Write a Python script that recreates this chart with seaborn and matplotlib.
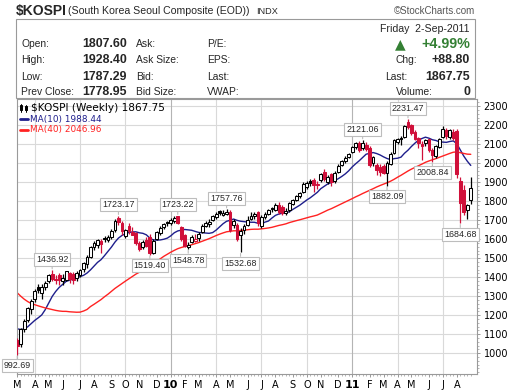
import numpy as np
import pandas as pd
import matplotlib
matplotlib.use("Agg")
import matplotlib.pyplot as plt
from matplotlib.patches import Rectangle
from matplotlib.lines import Line2D
import seaborn as sns

# ---------------- data ----------------
symbol = "$KOSPI"
name = "(South Korea Seoul Composite (EOD))"
exchange = "INDX"
date_label = "Friday  2-Sep-2011"
volume_last = 0

week_end = pd.date_range("2009-03-06", "2011-09-02", freq="W-FRI")  # weekly bars

opens = [1070, 1050, 1126, 1175, 1235, 1284, 1349, 1316, 1347, 1382,
         1417, 1392, 1412, 1380, 1386, 1424, 1418, 1395, 1412, 1442,
         1470, 1508, 1561, 1568, 1590, 1608, 1598, 1611, 1649, 1710,
         1688, 1615, 1668, 1640, 1632, 1579, 1558, 1596, 1610, 1530,
         1600, 1632, 1662, 1690, 1685, 1695, 1720, 1666, 1623, 1560,
         1587, 1590, 1605, 1640, 1670, 1682, 1700, 1718, 1750, 1730,
         1735, 1745, 1675, 1675, 1625, 1650, 1675, 1705, 1722, 1742,
         1672, 1716, 1733, 1763, 1755, 1778, 1772, 1740, 1754, 1786,
         1807, 1826, 1851, 1877, 1907, 1912, 1890, 1912, 1956, 1900,
         1945, 1905, 1955, 1990, 2010, 2032, 2060, 2087, 2108, 2080,
         2095, 2080, 2001, 1990, 1980, 1988, 1950, 1995, 2055, 2110,
         2134, 2140, 2215, 2200, 2165, 2135, 2100, 2105, 2125, 2068,
         2040, 2085, 2140, 2175, 2140, 2165, 2170, 1905, 1860, 1755,
         1807.60]
highs = [1080, 1132, 1182, 1245, 1287, 1340, 1366, 1362, 1382, 1415,
         1436.92, 1410, 1420, 1415, 1434, 1430, 1428, 1432, 1445, 1480,
         1515, 1565, 1590, 1602, 1600, 1615, 1625, 1652, 1705, 1723.17,
         1695, 1655, 1683, 1665, 1640, 1590, 1595, 1610, 1630, 1600,
         1645, 1670, 1685, 1695, 1712, 1720, 1723.22, 1672, 1630, 1585,
         1625, 1630, 1640, 1680, 1695, 1705, 1730, 1742, 1756, 1755,
         1757.76, 1752, 1705, 1685, 1660, 1680, 1720, 1745, 1742, 1748,
         1730, 1745, 1760, 1770, 1792, 1795, 1780, 1765, 1795, 1810,
         1835, 1850, 1900, 1905, 1915, 1920, 1905, 1950, 1970, 1940,
         1950, 1960, 1995, 2018, 2038, 2055, 2092, 2112, 2118, 2121.06,
         2110, 2090, 2040, 2000, 1995, 1995, 2010, 2060, 2128, 2135,
         2145, 2200, 2231.47, 2205, 2175, 2140, 2115, 2130, 2130, 2080,
         2095, 2135, 2195, 2185, 2178, 2180, 2180, 1925, 1885, 1785,
         1928.40]
lows = [992.69, 1035, 1110, 1165, 1205, 1270, 1318, 1285, 1335, 1370,
        1380, 1366, 1360, 1360, 1380, 1370, 1365, 1380, 1400, 1430,
        1450, 1500, 1545, 1555, 1530, 1585, 1585, 1600, 1640, 1675,
        1625, 1605, 1630, 1620, 1570, 1540, 1550, 1560, 1519.40, 1525,
        1595, 1620, 1655, 1670, 1675, 1685, 1680, 1590, 1560, 1548.78,
        1580, 1585, 1590, 1635, 1665, 1665, 1695, 1708, 1725, 1720,
        1725, 1640, 1660, 1590, 1532.68, 1630, 1670, 1700, 1705, 1670,
        1660, 1705, 1725, 1745, 1750, 1735, 1730, 1725, 1745, 1780,
        1800, 1815, 1845, 1865, 1880, 1850, 1865, 1900, 1905, 1890,
        1880, 1895, 1950, 1985, 2000, 2025, 2055, 2075, 2060, 2070,
        2065, 1980, 1985, 1940, 1935, 1945, 1882.09, 1990, 2050, 2100,
        2095, 2135, 2180, 2150, 2120, 2080, 2015, 2090, 2060, 2008.84,
        2030, 2080, 2135, 2130, 2130, 2120, 1920, 1684.68, 1730, 1705,
        1787.29]
closes = [1038, 1127, 1170, 1237, 1277, 1326, 1333, 1350, 1371, 1410,
          1389, 1388, 1384, 1398, 1433, 1390, 1386, 1420, 1438, 1477,
          1508, 1557, 1580, 1594, 1575, 1602, 1614, 1645, 1698, 1690,
          1644, 1650, 1643, 1625, 1580, 1550, 1587, 1566, 1526, 1591,
          1636, 1660, 1680, 1683, 1700, 1712, 1684, 1602, 1567, 1570,
          1614, 1600, 1627, 1668, 1688, 1692, 1723, 1733, 1736, 1738,
          1741.56, 1649, 1695, 1600, 1641, 1672, 1700, 1722, 1735, 1683,
          1718, 1735, 1752, 1759, 1781, 1745, 1740, 1748, 1789, 1805,
          1830, 1845, 1890, 1895, 1897, 1886, 1883, 1941, 1915, 1930,
          1901, 1950, 1987, 2013, 2030, 2051, 2086, 2109, 2070, 2107,
          2073, 1992, 2031, 1962, 1955, 1950, 2000, 2050, 2123, 2128,
          2130, 2196, 2192, 2161, 2127, 2104, 2090, 2120, 2071, 2045,
          2091, 2125, 2181, 2145, 2172.7, 2133, 1943, 1793, 1745, 1778.95,
          1867.75]
# 39 weekly closes before the first bar (only feed the moving averages)
prior_closes = [1830, 1800, 1740, 1680, 1570, 1580, 1560, 1600, 1570, 1570,
                1560, 1510, 1474, 1439, 1477, 1440, 1460, 1419, 1241, 1180,
                938, 1113, 1092, 1088, 1003, 1076, 1034, 1093, 1172, 1120,
                1157, 1152, 1112, 1108, 1162, 1197, 1200, 1095, 1063]

high_marks = [10, 29, 46, 60, 99, 112]
low_marks = [0, 38, 49, 64, 106, 119, 127]
ma_periods = [10, 40]
y_ticks = list(range(1000, 2301, 100))

# ---------------- styling ----------------
sns.set_theme(style="white")
plt.rcParams["font.family"] = ["DejaVu Sans"]
HDR = ["Liberation Sans", "DejaVu Sans"]
RED = "#d0103a"
NAVY = "#1e1e8c"
MARED = "#ff2222"
GREEN = "#348034"
GRID = "#d9d9d9"

W, H = 520, 391
fig = plt.figure(figsize=(W / 100, H / 100), dpi=100)
fig.patch.set_facecolor("white")


def fx(px):
    return px / W


def fy(py):
    return 1 - py / H


ax = fig.add_axes([fx(16.7), fy(374), (476.7 - 16.7) / W, (374 - 99) / H])
ax.set_facecolor("white")

df = pd.DataFrame({"date": week_end, "open": opens, "high": highs,
                   "low": lows, "close": closes})
df["i"] = np.arange(len(df))
allc = pd.Series(prior_closes + closes, dtype=float)
for p in ma_periods:
    df[f"ma{p}"] = allc.rolling(p).mean().iloc[len(prior_closes):].to_numpy()

prev = pd.Series(closes, dtype=float).shift(1).fillna(prior_closes[-1])
col = np.where(df["close"] >= prev, "black", RED)
filled = (df["close"] < df["open"]).to_numpy()
face = np.where(filled, col, "white")
body_lo = np.minimum(df["open"], df["close"])
body_h = np.maximum(np.abs(df["close"] - df["open"]), 3.0)

# grid
mondays = week_end - pd.Timedelta(days=4)
month_idx = [0] + [k for k in range(1, len(mondays)) if mondays[k].month != mondays[k - 1].month]
for yv in y_ticks:
    ax.axhline(yv, color=GRID, lw=0.8, zorder=0)
for k in month_idx:
    m = mondays[k].month
    if m in (1, 4, 7, 10):
        ax.axvline(k, color="#b4b4b4" if m == 1 else GRID, lw=0.8, zorder=0)

# moving averages
sns.lineplot(data=df, x="i", y="ma10", ax=ax, color=NAVY, lw=1.0, zorder=2)
sns.lineplot(data=df, x="i", y="ma40", ax=ax, color=MARED, lw=1.0, zorder=2)

# candles
ax.vlines(df["i"], df["low"], df["high"], colors=col, lw=0.9, zorder=3)
ax.bar(df["i"], body_h, bottom=body_lo, width=0.8, color=face,
       edgecolor=col, linewidth=0.75, zorder=4)

ax.set_xlim(-0.17, 131.7)
ax.set_ylim(891, 2338)
ax.set_xlabel("")
ax.set_ylabel("")

# axes ticks
ax.yaxis.tick_right()
ax.set_yticks(y_ticks)
ax.set_yticklabels([str(v) for v in y_ticks])
ax.set_yticks(np.arange(900, 2340, 20), minor=True)
ax.tick_params(axis="y", which="major", length=2.5, width=0.6, color="#888888",
               pad=2.5, labelsize=7, labelcolor="black", right=True, left=False)
ax.tick_params(axis="y", which="minor", length=1.5, width=0.6, color="#aaaaaa",
               right=True, left=False)

xlabels = []
for k in month_idx:
    d = mondays[k]
    xlabels.append(f"{d.year % 100:02d}" if d.month == 1 else d.strftime("%b")[0])
ax.set_xticks(month_idx)
ax.set_xticklabels(xlabels)
ax.set_xticks(df["i"], minor=True)
ax.tick_params(axis="x", which="major", length=2, width=0.6, color="#888888",
               pad=2.5, labelsize=7, labelcolor="black", bottom=True)
ax.tick_params(axis="x", which="minor", length=1.5, width=0.6, color="#aaaaaa",
               bottom=True)
for lab, k in zip(ax.get_xticklabels(), month_idx):
    if mondays[k].month == 1:
        lab.set_fontweight("bold")
        lab.set_fontsize(8)

for s in ax.spines.values():
    s.set_color("#9a9a9a")
    s.set_linewidth(0.8)

# value call-outs
box = dict(boxstyle="square,pad=0.22", fc="white", ec="#bdbdbd", lw=0.8)
arr = dict(arrowstyle="-", color="#bdbdbd", lw=0.8, shrinkA=0, shrinkB=1)
for k in high_marks:
    ax.annotate(f"{highs[k]:.2f}", xy=(k, highs[k]), xytext=(0, 8),
                textcoords="offset points", ha="center", va="center",
                fontsize=6.4, family=HDR, bbox=box, arrowprops=arr,
                zorder=6, annotation_clip=False)
for k in low_marks:
    ax.annotate(f"{lows[k]:.2f}", xy=(k, lows[k]), xytext=(0, -8),
                textcoords="offset points", ha="center", va="center",
                fontsize=6.4, family=HDR, bbox=box, arrowprops=arr,
                zorder=6, annotation_clip=False)

# in-chart legend
last = closes[-1]
fig.text(fx(31), fy(107.7), "\\" + symbol + f" (Weekly) {last:.2f}", fontsize=7.6,
         va="center", ha="left", color="black")
fig.add_artist(Line2D([fx(21), fx(21)], [fy(111.5), fy(104)], color="black", lw=0.7))
fig.add_artist(Rectangle((fx(20), fy(110)), 2 / W, 4.5 / H, transform=fig.transFigure,
                         fc="white", ec="black", lw=0.7))
fig.add_artist(Line2D([fx(25.5), fx(25.5)], [fy(112), fy(104.5)], color="black", lw=0.7))
fig.add_artist(Rectangle((fx(24.5), fy(110.5)), 2 / W, 4.5 / H, transform=fig.transFigure,
                         fc="black", ec="black", lw=0.7))
for p, c, yy in [(10, NAVY, 119.2), (40, MARED, 129.6)]:
    fig.add_artist(Line2D([fx(20), fx(28)], [fy(yy), fy(yy)], color=c, lw=2.0))
    fig.text(fx(29.5), fy(yy), f"MA({p}) {df[f'ma{p}'].iloc[-1]:.2f}", fontsize=6.4,
             va="center", ha="left", color=c)

# ---------------- header ----------------
fig.text(fx(16), fy(10.5), "\\" + symbol, fontsize=10, weight="bold", family=HDR,
         va="center", ha="left")
fig.text(fx(67.5), fy(11), name, fontsize=7.6, family=HDR, va="center", ha="left")
fig.text(fx(256), fy(11), exchange, fontsize=6.6, family=HDR, va="center", ha="left")
fig.text(fx(475), fy(11), "\u00a9StockCharts.com", fontsize=7, family=HDR,
         va="center", ha="right", color="#555555")
fig.add_artist(Rectangle((fx(16), fy(98)), (475 - 16) / W, (98 - 19.3) / H,
                         transform=fig.transFigure, fill=False, ec="#9a9a9a", lw=0.8))

chg = closes[-1] - closes[-2]
pct = chg / closes[-2] * 100
rows_y = [44, 60.3, 76.5, 92]
c1 = ["Open:", "High:", "Low:", "Prev Close:"]
v1 = [opens[-1], highs[-1], lows[-1], closes[-2]]
c2 = ["Ask:", "Ask Size:", "Bid:", "Bid Size:"]
c3 = ["P/E:", "EPS:", "Last:", "VWAP:"]
for yy, a, v, b, c in zip(rows_y, c1, v1, c2, c3):
    fig.text(fx(21), fy(yy), a, fontsize=7.4, family=HDR, va="center")
    fig.text(fx(82), fy(yy), f"{v:.2f}", fontsize=8.9, weight="bold", family=HDR, va="center")
    fig.text(fx(136), fy(yy), b, fontsize=7.4, family=HDR, va="center")
    fig.text(fx(207), fy(yy), c, fontsize=7.4, family=HDR, va="center")

fig.text(fx(470), fy(28.8), date_label, fontsize=7.6, family=HDR, va="center", ha="right")
fig.text(fx(400.5), fy(44), "\u25b2", fontsize=10, color=GREEN, va="center", ha="center",
         family=["DejaVu Sans"])
fig.text(fx(470), fy(44), f"{pct:+.2f}%", fontsize=10.3, weight="bold", color=GREEN,
         family=HDR, va="center", ha="right")
fig.text(fx(396), fy(60.3), "Chg:", fontsize=7.4, family=HDR, va="center")
fig.text(fx(470), fy(60.3), f"{chg:+.2f}", fontsize=8.9, weight="bold", family=HDR,
         va="center", ha="right")
fig.text(fx(385), fy(76.5), "Last:", fontsize=7.4, family=HDR, va="center")
fig.text(fx(470), fy(76.5), f"{closes[-1]:.2f}", fontsize=8.9, weight="bold", family=HDR,
         va="center", ha="right")
fig.text(fx(395.5), fy(92), "Volume:", fontsize=7.4, family=HDR, va="center")
fig.text(fx(470), fy(92), f"{volume_last}", fontsize=8.9, weight="bold", family=HDR,
         va="center", ha="right")

fig.savefig("out.png", dpi=100, facecolor="white")
